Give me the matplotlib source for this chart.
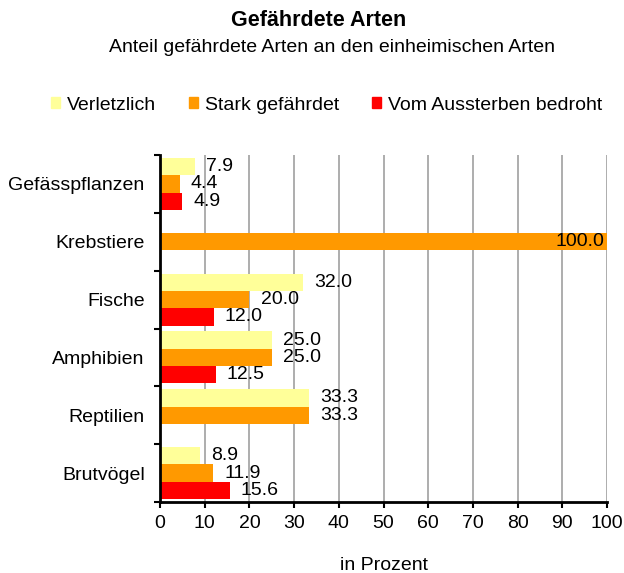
import matplotlib
matplotlib.use("Agg")
import matplotlib.pyplot as plt
import numpy as np
from matplotlib.patches import Rectangle

plt.rcParams['font.family'] = ['Liberation Sans', 'DejaVu Sans']

categories = ["Gefässpflanzen", "Krebstiere", "Fische", "Amphibien", "Reptilien", "Brutvögel"]
series_names = ["Verletzlich", "Stark gefährdet", "Vom Aussterben bedroht"]
verletzlich = [7.9, None, 32.0, 25.0, 33.3, 8.9]
stark = [4.4, 100.0, 20.0, 25.0, 33.3, 11.9]
bedroht = [4.9, None, 12.0, 12.5, None, 15.6]
colors = ["#FFFF99", "#FF9900", "#FF0000"]
xticks = list(range(0, 101, 10))

FS = 14
fig = plt.figure(figsize=(6.24, 5.73), dpi=100)
ax = fig.add_axes([0.2564, 0.1239, 0.9728 - 0.2564, 0.7295 - 0.1239])

n = len(categories)
bh = 0.3
ypos = np.arange(n)
for si, (vals, col) in enumerate(zip([verletzlich, stark, bedroht], colors)):
    offs = (si - 1) * bh
    for i, v in enumerate(vals):
        if v is None:
            continue
        y = i + offs
        ax.barh(y, v, height=bh, color=col, edgecolor='none', zorder=3)
        if v >= 95:
            ax.annotate(f"{v:.1f}", (v, y), xytext=(-2, 0), textcoords='offset points',
                        ha='right', va='center', fontsize=FS, zorder=4)
        else:
            ax.annotate(f"{v:.1f}", (v, y), xytext=(8, 0), textcoords='offset points',
                        ha='left', va='center', fontsize=FS, zorder=4)

ax.set_xlim(0, 100)
ax.set_ylim(n - 0.5, -0.5)
ax.set_xticks(xticks)
ax.set_xticklabels([str(t) for t in xticks], fontsize=FS)
ax.set_yticks(ypos)
ax.set_yticklabels(categories, fontsize=FS)
ax.set_yticks(np.arange(-0.5, n, 1), minor=True)
ax.tick_params(axis='y', which='major', length=0, pad=11)
ax.tick_params(axis='y', which='minor', length=4, width=1.5, direction='out', color='black')
ax.tick_params(axis='x', which='major', length=4, width=1.5, direction='out', pad=5)
ax.grid(axis='x', color='#A0A0A0', linewidth=1.2, zorder=0)
for s in ['top', 'right']:
    ax.spines[s].set_visible(False)
for s in ['left', 'bottom']:
    ax.spines[s].set_linewidth(2)
    ax.spines[s].set_zorder(5)

fig.text(384 / 624, 1 - 565 / 573, "in Prozent", ha='center', va='center', fontsize=FS)
fig.text(318.5 / 624, 1 - 21 / 573, "Gefährdete Arten", ha='center', va='center', fontsize=15.5, fontweight='bold')
fig.text(332 / 624, 1 - 47 / 573, "Anteil gefährdete Arten an den einheimischen Arten", ha='center', va='center', fontsize=FS)

handles = [Rectangle((0, 0), 1, 1, color=c) for c in colors]
fig.legend(handles, series_names, loc='center', bbox_to_anchor=(326.5 / 624, 1 - 105 / 573), ncol=3,
           frameon=False, fontsize=FS, handlelength=0.46, handleheight=0.46,
           handletextpad=0.35, columnspacing=1.7, borderpad=0, borderaxespad=0)

fig.savefig("out.png", dpi=100)
